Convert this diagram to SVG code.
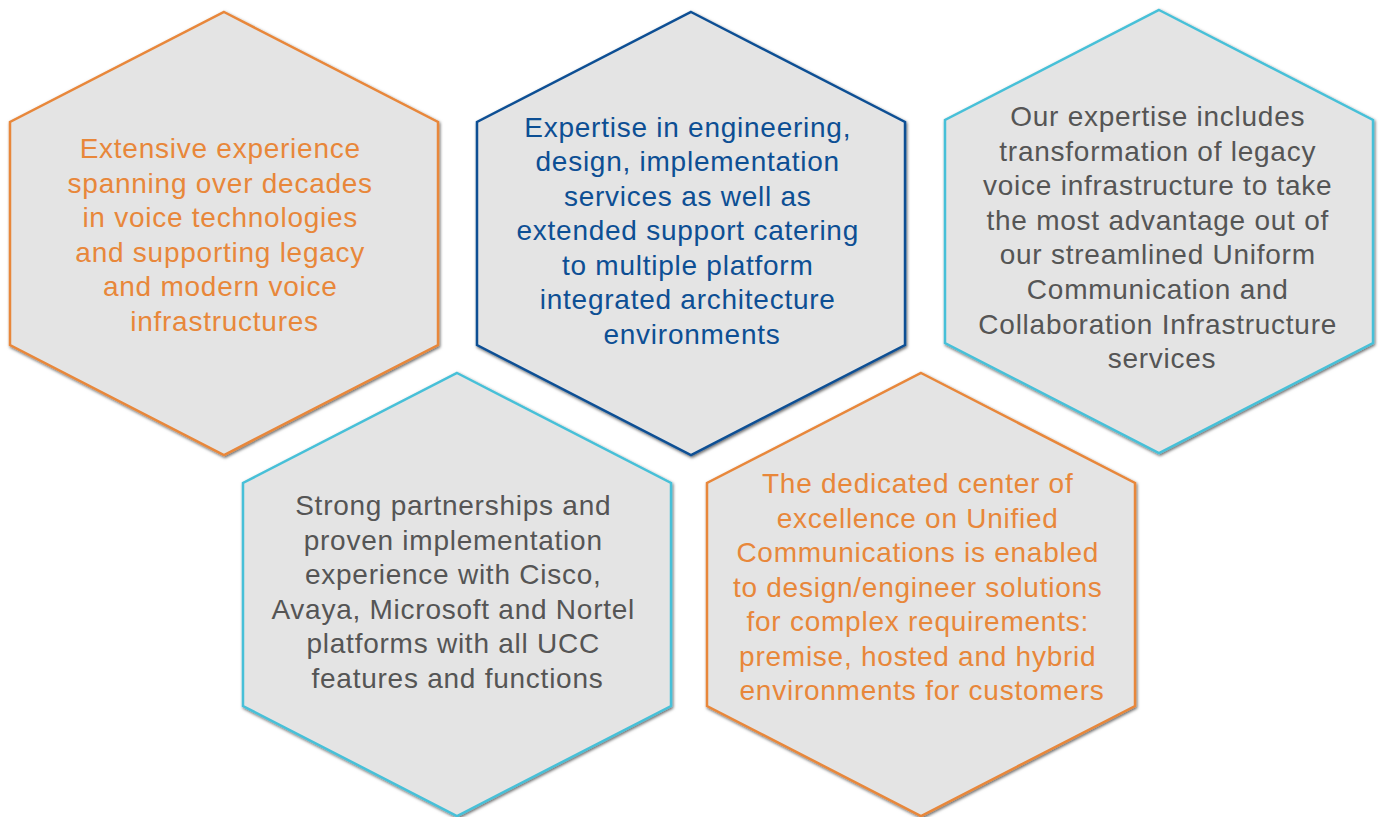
<svg xmlns="http://www.w3.org/2000/svg" width="1382" height="817" viewBox="0 0 1382 817">
  <defs>
    <filter id="shadow" x="-5%" y="-5%" width="110%" height="110%">
      <feDropShadow dx="1" dy="1.5" stdDeviation="1.6" flood-color="#000" flood-opacity="0.6"/>
    </filter>
    <!-- regular hexagon shape, 428 wide, 443 tall, origin at top vertex -->
    <polygon id="hex" points="0,0 214,110 214,333 0,443 -214,333 -214,110"/>
  </defs>
  <style>
    .hex { fill: #e4e4e4; stroke-width: 2.5; stroke-linejoin: miter; filter: url(#shadow); }
    .orange { stroke: #e8873a; }
    .blue { stroke: #0d4f94; }
    .cyan { stroke: #47c0d8; }
    text { font-family: "Liberation Sans", Arial, Helvetica, sans-serif; font-size: 28px; letter-spacing: 0.75px; text-anchor: middle; }
    .t-orange { fill: #e8873a; }
    .t-blue { fill: #0d4f94; }
    .t-gray { fill: #555555; }
  </style>
  <rect width="1382" height="817" fill="#ffffff"/>

  <g id="node-voice-experience">
    <use href="#hex" class="hex orange" x="224" y="12"/>
    <text class="t-orange">
      <tspan x="224.5" y="158">Extensive experience</tspan>
      <tspan x="224.5" y="193">spanning over decades</tspan>
      <tspan x="224.5" y="227">in voice technologies</tspan>
      <tspan x="224.5" y="262">and supporting legacy</tspan>
      <tspan x="224.5" y="296">and modern voice</tspan>
      <tspan x="224.5" y="331">infrastructures</tspan>
    </text>
  </g>

  <g id="node-engineering">
    <use href="#hex" class="hex blue" x="691" y="12"/>
    <text class="t-blue">
      <tspan x="692" y="137">Expertise in engineering,</tspan>
      <tspan x="692" y="171">design, implementation</tspan>
      <tspan x="692" y="206">services as well as</tspan>
      <tspan x="692" y="240">extended support catering</tspan>
      <tspan x="692" y="275">to multiple platform</tspan>
      <tspan x="692" y="309">integrated architecture</tspan>
      <tspan x="692" y="344">environments</tspan>
    </text>
  </g>

  <g id="node-transformation">
    <use href="#hex" class="hex cyan" x="1159" y="10"/>
    <text class="t-gray">
      <tspan x="1162" y="126">Our expertise includes</tspan>
      <tspan x="1162" y="161">transformation of legacy</tspan>
      <tspan x="1162" y="195">voice infrastructure to take</tspan>
      <tspan x="1162" y="230">the most advantage out of</tspan>
      <tspan x="1162" y="264">our streamlined Uniform</tspan>
      <tspan x="1162" y="299">Communication and</tspan>
      <tspan x="1162" y="334">Collaboration Infrastructure</tspan>
      <tspan x="1162" y="368">services</tspan>
    </text>
  </g>

  <g id="node-partnerships">
    <use href="#hex" class="hex cyan" x="457" y="373"/>
    <text class="t-gray">
      <tspan x="457.5" y="515">Strong partnerships and</tspan>
      <tspan x="457.5" y="550">proven implementation</tspan>
      <tspan x="457.5" y="584">experience with Cisco,</tspan>
      <tspan x="457.5" y="619">Avaya, Microsoft and Nortel</tspan>
      <tspan x="457.5" y="653">platforms with all UCC</tspan>
      <tspan x="457.5" y="688">features and functions</tspan>
    </text>
  </g>

  <g id="node-center-of-excellence">
    <use href="#hex" class="hex orange" x="921" y="373"/>
    <text class="t-orange">
      <tspan x="922" y="493">The dedicated center of</tspan>
      <tspan x="922" y="528">excellence on Unified</tspan>
      <tspan x="922" y="562">Communications is enabled</tspan>
      <tspan x="922" y="597">to design/engineer solutions</tspan>
      <tspan x="922" y="631">for complex requirements:</tspan>
      <tspan x="922" y="666">premise, hosted and hybrid</tspan>
      <tspan x="922" y="700">environments for customers</tspan>
    </text>
  </g>
</svg>
